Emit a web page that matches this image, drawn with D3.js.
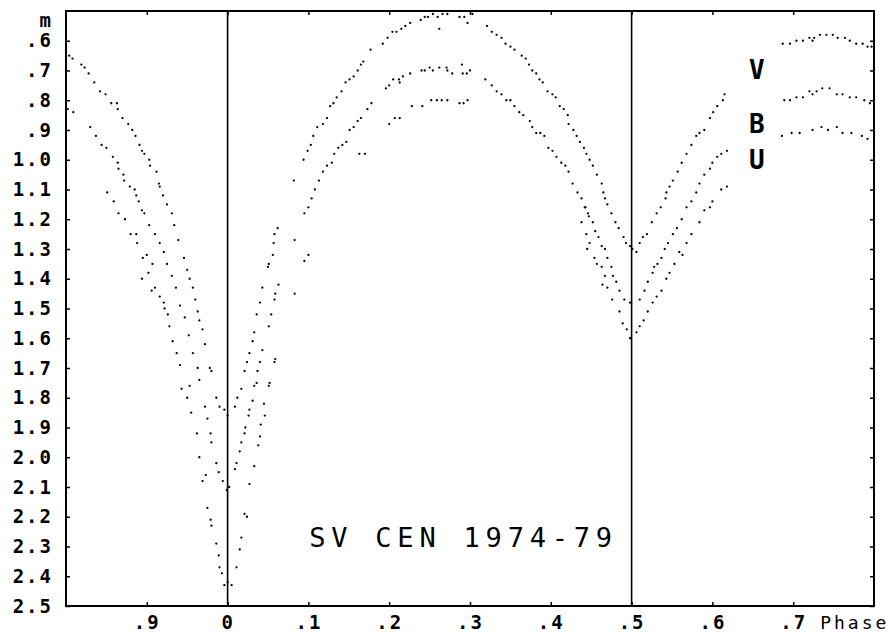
<!DOCTYPE html>
<html>
<head>
<meta charset="utf-8">
<script src="https://cdn.jsdelivr.net/npm/d3@7"></script>
<style>
  body { margin: 0; background: #fff; }
  svg { display: block; }
  .tick line { stroke: #000; stroke-width: 1.5; }
  .axis path { display: none; }
</style>
</head>
<body>
<svg id="chart"></svg>
<script>
// phase, magnitude pairs
var vPoints = [
  [-0.196,0.65],[-0.192,0.66],[-0.181,0.68],[-0.177,0.69],[-0.172,0.71],[-0.165,0.74],[-0.158,0.77],[-0.151,0.78],
  [-0.144,0.81],[-0.137,0.81],[-0.136,0.83],[-0.130,0.86],[-0.123,0.88],[-0.118,0.90],[-0.114,0.92],[-0.109,0.95],
  [-0.106,0.97],[-0.103,0.98],[-0.097,1.00],[-0.096,1.02],[-0.088,1.04],[-0.085,1.08],[-0.084,1.09],[-0.080,1.12],
  [-0.075,1.15],[-0.069,1.18],[-0.066,1.22],[-0.061,1.27],[-0.054,1.33],[-0.050,1.37],[-0.047,1.40],[-0.043,1.43],
  [-0.040,1.47],[-0.037,1.51],[-0.035,1.54],[-0.031,1.57],[-0.028,1.62],[-0.022,1.70],[-0.020,1.71],[-0.014,1.80],
  [-0.010,1.83],[-0.004,1.84],[0.000,1.86],[0.009,1.83],[0.012,1.80],[0.017,1.77],[0.021,1.71],[0.024,1.68],
  [0.027,1.65],[0.031,1.61],[0.033,1.58],[0.036,1.52],[0.040,1.48],[0.043,1.43],[0.050,1.36],[0.051,1.35],
  [0.056,1.32],[0.057,1.28],[0.058,1.25],[0.062,1.23],[0.082,1.07],[0.094,1.00],[0.099,0.97],[0.103,0.95],
  [0.106,0.92],[0.111,0.89],[0.118,0.88],[0.123,0.86],[0.127,0.82],[0.131,0.81],[0.135,0.79],[0.141,0.77],
  [0.146,0.74],[0.151,0.73],[0.156,0.72],[0.161,0.70],[0.165,0.68],[0.168,0.67],[0.177,0.63],[0.192,0.61],
  [0.198,0.59],[0.204,0.57],[0.209,0.57],[0.215,0.56],[0.220,0.55],[0.226,0.54],[0.239,0.53],[0.244,0.52],
  [0.248,0.52],[0.254,0.51],[0.260,0.52],[0.262,0.56],[0.266,0.51],[0.272,0.51],[0.287,0.52],[0.293,0.52],
  [0.297,0.54],[0.303,0.51],[0.321,0.55],[0.327,0.57],[0.333,0.58],[0.339,0.59],[0.344,0.61],[0.350,0.62],
  [0.355,0.63],[0.364,0.65],[0.369,0.66],[0.373,0.68],[0.377,0.70],[0.382,0.71],[0.386,0.73],[0.390,0.74],
  [0.396,0.77],[0.402,0.78],[0.406,0.79],[0.411,0.82],[0.416,0.83],[0.421,0.85],[0.422,0.88],[0.428,0.90],
  [0.432,0.92],[0.436,0.94],[0.441,0.96],[0.444,0.98],[0.448,1.00],[0.452,1.02],[0.457,1.05],[0.463,1.08],
  [0.465,1.11],[0.467,1.13],[0.470,1.15],[0.475,1.18],[0.480,1.21],[0.484,1.23],[0.490,1.26],[0.493,1.28],
  [0.498,1.29],[0.501,1.30],[0.506,1.31],[0.510,1.28],[0.514,1.26],[0.519,1.25],[0.525,1.21],[0.531,1.18],
  [0.536,1.16],[0.542,1.13],[0.543,1.11],[0.547,1.09],[0.551,1.07],[0.557,1.04],[0.562,1.01],[0.568,0.98],
  [0.574,0.95],[0.580,0.92],[0.584,0.91],[0.590,0.90],[0.597,0.86],[0.601,0.84],[0.606,0.82],[0.613,0.80],
  [0.615,0.78],[0.687,0.61],[0.696,0.61],[0.704,0.60],[0.712,0.60],[0.720,0.59],[0.724,0.60],[0.726,0.59],
  [0.733,0.58],[0.741,0.58],[0.749,0.58],[0.755,0.59],[0.764,0.59],[0.770,0.60],[0.778,0.61],[0.786,0.61],
  [0.792,0.62],[0.797,0.62]
];
var bPoints = [
  [-0.198,0.83],[-0.191,0.84],[-0.170,0.89],[-0.163,0.92],[-0.156,0.95],[-0.150,0.96],[-0.142,0.99],[-0.136,1.01],
  [-0.135,1.03],[-0.129,1.05],[-0.128,1.07],[-0.121,1.09],[-0.115,1.10],[-0.113,1.12],[-0.110,1.14],[-0.106,1.17],
  [-0.103,1.18],[-0.097,1.22],[-0.090,1.25],[-0.084,1.28],[-0.079,1.31],[-0.075,1.35],[-0.069,1.39],[-0.064,1.43],
  [-0.059,1.49],[-0.053,1.53],[-0.048,1.59],[-0.043,1.65],[-0.037,1.70],[-0.035,1.74],[-0.028,1.83],[-0.025,1.87],
  [-0.021,1.92],[-0.020,1.95],[-0.014,2.02],[-0.011,2.05],[-0.006,2.08],[-0.001,2.11],[0.002,2.10],[0.009,2.04],
  [0.011,2.02],[0.015,1.98],[0.017,1.95],[0.021,1.92],[0.022,1.90],[0.026,1.86],[0.027,1.84],[0.031,1.81],
  [0.033,1.76],[0.036,1.75],[0.037,1.71],[0.040,1.68],[0.043,1.64],[0.051,1.56],[0.054,1.52],[0.058,1.47],
  [0.059,1.45],[0.063,1.42],[0.083,1.27],[0.095,1.18],[0.100,1.16],[0.104,1.13],[0.108,1.10],[0.113,1.07],
  [0.118,1.04],[0.123,1.02],[0.129,1.01],[0.132,0.98],[0.137,0.96],[0.142,0.95],[0.147,0.94],[0.151,0.90],
  [0.156,0.89],[0.161,0.87],[0.165,0.86],[0.173,0.83],[0.178,0.81],[0.196,0.76],[0.200,0.75],[0.205,0.73],
  [0.212,0.73],[0.213,0.74],[0.217,0.72],[0.226,0.71],[0.240,0.70],[0.244,0.70],[0.250,0.69],[0.254,0.70],
  [0.262,0.69],[0.271,0.69],[0.272,0.70],[0.278,0.71],[0.290,0.68],[0.291,0.71],[0.296,0.71],[0.300,0.70],
  [0.319,0.73],[0.327,0.75],[0.333,0.77],[0.339,0.78],[0.345,0.80],[0.350,0.80],[0.355,0.82],[0.361,0.84],
  [0.366,0.85],[0.374,0.87],[0.377,0.89],[0.382,0.91],[0.387,0.91],[0.392,0.92],[0.397,0.96],[0.402,0.97],
  [0.407,0.99],[0.413,1.01],[0.418,1.02],[0.422,1.04],[0.427,1.08],[0.433,1.11],[0.438,1.13],[0.443,1.16],
  [0.447,1.19],[0.452,1.21],[0.455,1.24],[0.459,1.26],[0.463,1.29],[0.467,1.30],[0.470,1.33],[0.475,1.36],
  [0.477,1.39],[0.481,1.41],[0.485,1.44],[0.491,1.47],[0.498,1.48],[0.510,1.47],[0.516,1.44],[0.520,1.41],
  [0.526,1.38],[0.528,1.36],[0.532,1.35],[0.537,1.33],[0.541,1.30],[0.545,1.28],[0.551,1.25],[0.556,1.23],
  [0.562,1.20],[0.568,1.16],[0.574,1.14],[0.580,1.11],[0.584,1.08],[0.590,1.05],[0.597,1.03],[0.600,1.01],
  [0.606,0.99],[0.611,0.98],[0.618,0.97],[0.689,0.80],[0.696,0.80],[0.704,0.79],[0.712,0.79],[0.720,0.77],
  [0.724,0.78],[0.729,0.77],[0.736,0.76],[0.745,0.76],[0.754,0.78],[0.761,0.78],[0.770,0.79],[0.778,0.79],
  [0.788,0.80],[0.795,0.81]
];
var uPoints = [
  [-0.149,1.11],[-0.141,1.14],[-0.135,1.18],[-0.127,1.20],[-0.120,1.25],[-0.113,1.25],[-0.112,1.28],[-0.105,1.33],
  [-0.100,1.32],[-0.093,1.35],[-0.098,1.38],[-0.106,1.40],[-0.094,1.44],[-0.090,1.43],[-0.084,1.46],[-0.079,1.48],
  [-0.078,1.50],[-0.074,1.52],[-0.072,1.56],[-0.068,1.61],[-0.063,1.65],[-0.059,1.69],[-0.057,1.77],[-0.050,1.80],
  [-0.047,1.76],[-0.045,1.85],[-0.038,1.92],[-0.035,2.00],[-0.031,2.08],[-0.027,2.06],[-0.025,2.17],[-0.021,2.21],
  [-0.020,2.23],[-0.014,2.29],[-0.011,2.33],[-0.010,2.37],[-0.007,2.39],[-0.004,2.43],[0.000,2.42],[0.005,2.43],
  [0.011,2.37],[0.015,2.31],[0.017,2.27],[0.021,2.19],[0.024,2.20],[0.027,2.09],[0.033,2.03],[0.038,1.96],
  [0.040,1.93],[0.041,1.89],[0.045,1.82],[0.046,1.86],[0.051,1.76],[0.052,1.75],[0.058,1.68],[0.059,1.67],
  [0.083,1.45],[0.095,1.34],[0.100,1.32],[0.163,0.98],[0.170,0.98],[0.200,0.88],[0.207,0.86],[0.213,0.86],
  [0.228,0.82],[0.241,0.82],[0.252,0.80],[0.259,0.80],[0.265,0.80],[0.272,0.80],[0.287,0.81],[0.292,0.81],
  [0.297,0.80],[0.442,1.16],[0.446,1.18],[0.438,1.21],[0.444,1.25],[0.448,1.28],[0.445,1.30],[0.454,1.33],
  [0.457,1.35],[0.463,1.36],[0.467,1.39],[0.464,1.42],[0.470,1.43],[0.476,1.47],[0.485,1.51],[0.489,1.55],
  [0.494,1.57],[0.498,1.60],[0.506,1.58],[0.510,1.56],[0.515,1.54],[0.520,1.51],[0.526,1.48],[0.531,1.46],
  [0.537,1.44],[0.543,1.40],[0.547,1.38],[0.553,1.35],[0.559,1.31],[0.563,1.32],[0.568,1.28],[0.574,1.25],
  [0.584,1.21],[0.590,1.17],[0.597,1.16],[0.600,1.14],[0.611,1.10],[0.618,1.09],[0.686,0.92],[0.698,0.91],
  [0.708,0.91],[0.724,0.90],[0.735,0.89],[0.743,0.90],[0.754,0.89],[0.761,0.91],[0.772,0.91],[0.785,0.92],
  [0.792,0.93]
];

var series = [
  {name: "V", points: vPoints, labelMag: 0.73},
  {name: "B", points: bPoints, labelMag: 0.91},
  {name: "U", points: uPoints, labelMag: 1.03}
];
var labelPhase = 0.655;

var yTicks = [0.6, 0.7, 0.8, 0.9, 1.0, 1.1, 1.2, 1.3, 1.4, 1.5, 1.6, 1.7, 1.8, 1.9, 2.0, 2.1, 2.2, 2.3, 2.4, 2.5];
var xTicks = [-0.1, 0, 0.1, 0.2, 0.3, 0.4, 0.5, 0.6, 0.7];
var xTickLabels = [".9", "0", ".1", ".2", ".3", ".4", ".5", ".6", ".7"];
var eclipseLines = [0, 0.5];
var title = "SV CEN 1974-79";

var margin = {top: 11, right: 20, bottom: 28, left: 66},
    width = 874 - margin.left,
    height = 606 - margin.top;

var mono = "'DejaVu Sans Mono', monospace";

var svg = d3.select("#chart")
    .attr("width", 894)
    .attr("height", 634)
  .append("g")
    .attr("transform", "translate(" + margin.left + "," + margin.top + ")");

var x = d3.scaleLinear().domain([-0.2, 0.8]).range([0, width]);
var y = d3.scaleLinear().domain([0.5, 2.5]).range([0, height]);

function magLabel(v) {
    return v < 1 ? "." + Math.round(v * 10) : v.toFixed(1);
}

// left axis with labels
var yAxis = svg.append("g")
    .attr("class", "axis")
    .call(d3.axisLeft(y).tickValues(yTicks).tickSize(-4).tickPadding(13).tickFormat(magLabel));
yAxis.selectAll("text")
    .style("font", "bold 19px " + mono)
    .style("letter-spacing", "2px")
    .attr("fill", "#000");

svg.append("text")
    .attr("x", -15)
    .attr("y", y(0.5) + 16)
    .attr("text-anchor", "end")
    .style("font", "bold 19px " + mono)
    .text("m");

// bottom axis
var xAxis = svg.append("g")
    .attr("class", "axis")
    .attr("transform", "translate(0," + height + ")")
    .call(d3.axisBottom(x).tickValues(xTicks).tickSize(-4).tickPadding(10)
        .tickFormat((d, i) => xTickLabels[i]));
xAxis.selectAll("text")
    .style("font", "bold 19px " + mono)
    .style("letter-spacing", "2px")
    .attr("fill", "#000");

svg.append("text")
    .attr("x", x(0.7) + 27)
    .attr("y", height + 23)
    .style("font", "18px " + mono)
    .style("letter-spacing", "3px")
    .text("Phase");

// top and right ticks
svg.append("g")
    .attr("class", "axis")
    .call(d3.axisTop(x).tickValues(xTicks).tickSize(-4).tickFormat(""));
svg.append("g")
    .attr("class", "axis")
    .attr("transform", "translate(" + width + ",0)")
    .call(d3.axisRight(y).tickValues(yTicks).tickSize(-4).tickFormat(""));

// frame
svg.append("rect")
    .attr("width", width)
    .attr("height", height)
    .attr("fill", "none")
    .attr("stroke", "#000")
    .attr("stroke-width", 2);

svg.selectAll(".eclipse")
    .data(eclipseLines)
  .enter().append("line")
    .attr("class", "eclipse")
    .attr("x1", d => x(d)).attr("x2", d => x(d))
    .attr("y1", 0).attr("y2", height)
    .attr("stroke", "#000")
    .attr("stroke-width", 1.6);

// observations
series.forEach(function (s) {
    svg.append("g").selectAll("circle")
        .data(s.points)
      .enter().append("circle")
        .attr("cx", d => x(d[0]))
        .attr("cy", d => y(d[1]))
        .attr("r", 1.15)
        .attr("fill", "#000");

    svg.append("text")
        .attr("x", x(labelPhase))
        .attr("y", y(s.labelMag))
        .attr("text-anchor", "middle")
        .style("font", "bold 26px " + mono)
        .text(s.name);
});

svg.append("text")
    .attr("x", x(0.292))
    .attr("y", y(2.30))
    .attr("text-anchor", "middle")
    .style("font", "27px " + mono)
    .style("letter-spacing", "5.8px")
    .text(title);
</script>
</body>
</html>
